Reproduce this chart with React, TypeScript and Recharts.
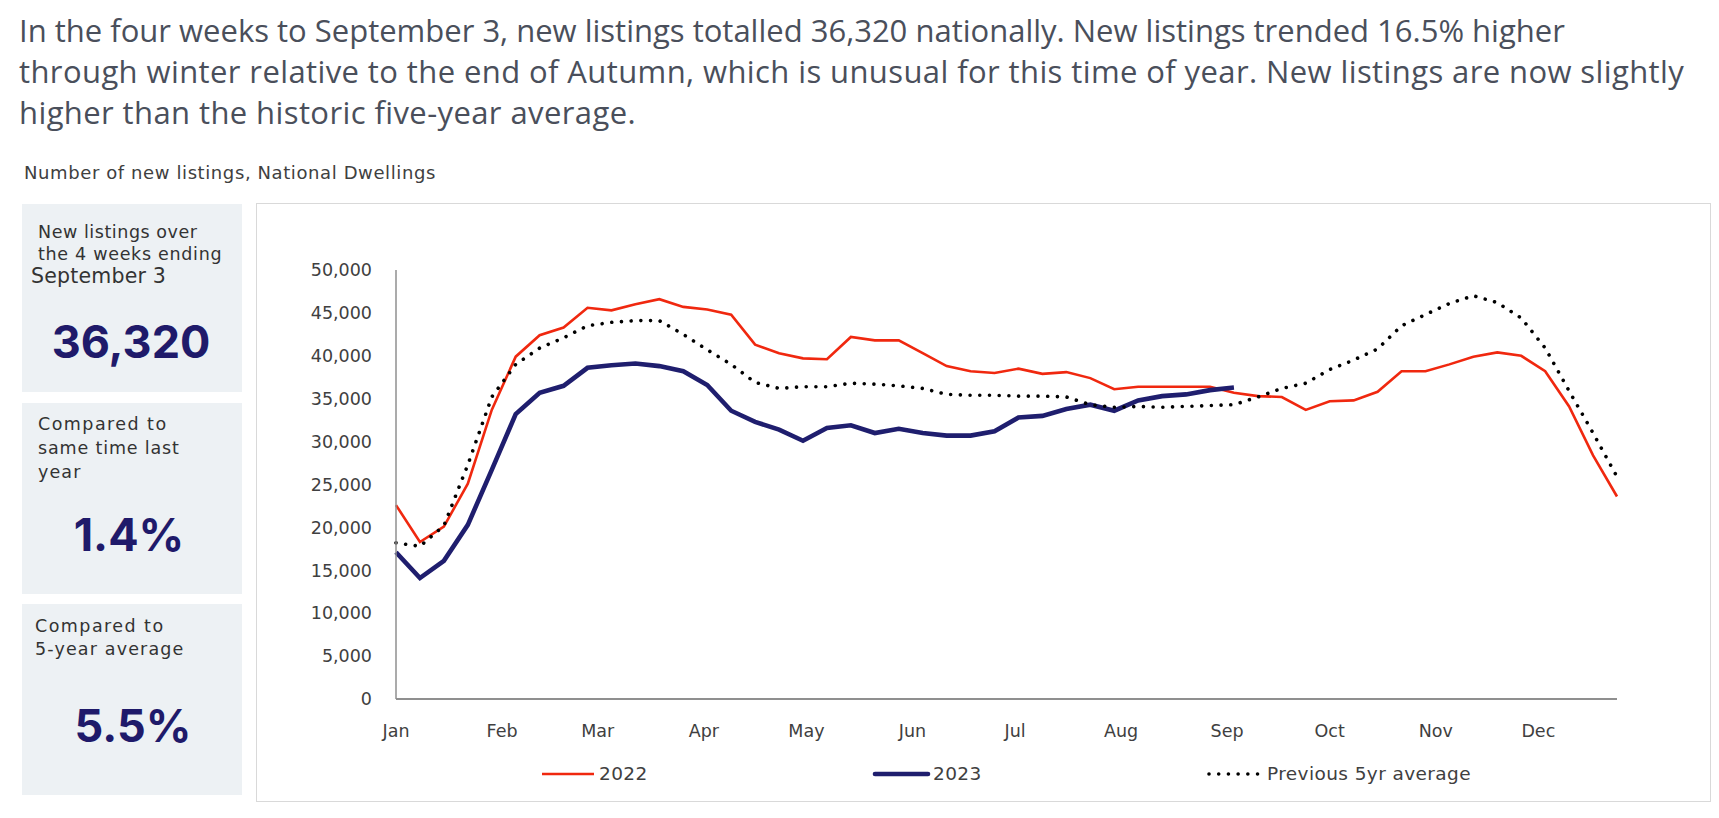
import React from 'react';
import { LineChart, Line, XAxis, YAxis } from 'recharts';

// week offsets (days since Jan 1)
const weekDays = [0, 7, 14, 21, 28, 35, 42, 49, 56, 63, 70, 77, 84, 91, 98, 105, 112, 119, 126, 133, 140, 147, 154, 161, 168, 175, 182, 189, 196, 203, 210, 217, 224, 231, 238, 245, 252, 259, 266, 273, 280, 287, 294, 301, 308, 315, 322, 329, 336, 343, 350, 357];

const listings2022 = [22600, 18300, 20100, 25100, 33700, 39900, 42400, 43300, 45600, 45300, 46000, 46600, 45700, 45400, 44800, 41300, 40300, 39700, 39600, 42200, 41800, 41800, 40300, 38800, 38200, 38000, 38500, 37900, 38100, 37400, 36100, 36400, 36400, 36400, 36400, 35700, 35300, 35200, 33700, 34700, 34800, 35800, 38200, 38200, 39000, 39900, 40400, 40000, 38200, 34100, 28400, 23600];

const listings2023 = [17100, 14100, 16100, 20300, 26700, 33200, 35700, 36500, 38600, 38900, 39100, 38800, 38200, 36600, 33600, 32300, 31400, 30100, 31600, 31900, 31000, 31500, 31000, 30700, 30700, 31200, 32800, 33000, 33800, 34300, 33600, 34800, 35300, 35500, 36000, 36300];

const fiveYearAvg = [18200, 17800, 20200, 27300, 35200, 39000, 40900, 42100, 43500, 43900, 44100, 44100, 42500, 40700, 39000, 36900, 36200, 36400, 36400, 36800, 36700, 36500, 36200, 35500, 35400, 35400, 35300, 35300, 35200, 34300, 34000, 34100, 34000, 34100, 34200, 34300, 35200, 36200, 36800, 38400, 39500, 40800, 43500, 44800, 46100, 47000, 46200, 44400, 40900, 35900, 31000, 25900];

const monthTickDays = [0, 31, 59, 90, 120, 151, 181, 212, 243, 273, 304, 334];
const monthLabels = ['Jan', 'Feb', 'Mar', 'Apr', 'May', 'Jun', 'Jul', 'Aug', 'Sep', 'Oct', 'Nov', 'Dec'];
const yTicks = [0, 5000, 10000, 15000, 20000, 25000, 30000, 35000, 40000, 45000, 50000];

const seriesNames = ['2022', '2023', 'Previous 5yr average'];

const titleLines = [
  'In the four weeks to September 3, new listings totalled 36,320 nationally. New listings trended 16.5% higher',
  'through winter relative to the end of Autumn, which is unusual for this time of year. New listings are now slightly',
  'higher than the historic five-year average.',
];
const titleSpacing = [0, 0.4, 0.4];

const RED = '#f0280f';
const NAVY = '#1f1e6e';
const BLACK = '#000000';
const LABEL_FONT = '"DejaVu Sans", sans-serif';
const BIG_FONT = 'Inter, "Noto Sans", sans-serif';

const data = weekDays.map((d, i) => ({
  day: d,
  y2022: listings2022[i],
  y2023: i < listings2023.length ? listings2023[i] : undefined,
  avg: fiveYearAvg[i],
}));

const fmt = (v: number) => v.toLocaleString('en-US');

const boxStyle: React.CSSProperties = {
  position: 'absolute',
  left: 22,
  width: 220,
  background: '#edf1f4',
};

const smallText = (left: number, top: number, text: string, ls: number, size = 17.5): React.ReactElement => (
  <div
    key={text + top}
    style={{
      position: 'absolute',
      left,
      top: top - 11,
      height: 22,
      lineHeight: '22px',
      fontSize: size,
      letterSpacing: ls,
      color: '#333333',
      fontFamily: LABEL_FONT,
      whiteSpace: 'nowrap',
    }}
  >
    {text}
  </div>
);

const bigText = (cx: number, cy: number, text: string): React.ReactElement => (
  <div
    style={{
      position: 'absolute',
      left: cx - 110,
      width: 220,
      top: cy - 30,
      height: 60,
      lineHeight: '60px',
      textAlign: 'center',
      fontSize: 45,
      fontWeight: 700,
      color: '#1f1a6a',
      fontFamily: BIG_FONT,
    }}
  >
    {text}
  </div>
);

export default function App() {
  return (
    <div
      style={{
        position: 'absolute',
        left: 0,
        top: 0,
        width: 1719,
        height: 818,
        background: '#ffffff',
        overflow: 'hidden',
      }}
    >
      {titleLines.map((t, i) => (
        <div
          key={i}
          style={{
            position: 'absolute',
            left: 19,
            top: 10 + i * 41,
            height: 41,
            lineHeight: '41px',
            fontSize: 31,
            color: '#4a4f5b',
            fontFamily: '"Open Sans", "Noto Sans", sans-serif',
            letterSpacing: titleSpacing[i],
            whiteSpace: 'nowrap',
          }}
        >
          {t}
        </div>
      ))}

      <div
        style={{
          position: 'absolute',
          left: 24,
          top: 162,
          lineHeight: '22px',
          fontSize: 18,
          letterSpacing: 0.6,
          color: '#404040',
          fontFamily: LABEL_FONT,
          whiteSpace: 'nowrap',
        }}
      >
        Number of new listings, National Dwellings
      </div>

      <div style={{ ...boxStyle, top: 204, height: 188 }} />
      <div style={{ ...boxStyle, top: 403, height: 191 }} />
      <div style={{ ...boxStyle, top: 604, height: 191 }} />

      {smallText(38, 232, 'New listings over', 0.55)}
      {smallText(38, 254, 'the 4 weeks ending', 0.7)}
      {smallText(31, 276, 'September 3', 0.2, 20.5)}
      {bigText(131, 342, '36,320')}

      {smallText(38, 424, 'Compared to', 1.45)}
      {smallText(38, 448, 'same time last', 0.85)}
      {smallText(38, 472, 'year', 1.1)}
      {bigText(129, 535, '1.4%')}

      {smallText(35, 626, 'Compared to', 1.45)}
      {smallText(35, 649, '5-year average', 1.15)}
      {bigText(133, 726, '5.5%')}

      <div
        style={{
          position: 'absolute',
          left: 256,
          top: 203,
          width: 1453,
          height: 597,
          border: '1.5px solid #d9d9d9',
        }}
      />

      <div style={{ position: 'absolute', left: 256, top: 203 }}>
        <LineChart
          width={1456}
          height={600}
          data={data}
          margin={{ top: 67, right: 95, bottom: 74, left: 0 }}
        >
          <XAxis
            dataKey="day"
            type="number"
            domain={[0, 357]}
            ticks={monthTickDays}
            interval={0}
            tickFormatter={(v: number) => monthLabels[monthTickDays.indexOf(v)]}
            tickLine={false}
            tickSize={6}
            tickMargin={20}
            height={30}
            axisLine={{ stroke: '#8f8f8f', strokeWidth: 2 }}
            tick={{ fill: '#404040', fontSize: 17.5, fontFamily: LABEL_FONT }}
          />
          <YAxis
            type="number"
            domain={[0, 50000]}
            ticks={yTicks}
            interval={0}
            width={140}
            tickFormatter={fmt}
            tickLine={false}
            tickSize={6}
            tickMargin={18}
            axisLine={{ stroke: '#8f8f8f', strokeWidth: 1.5 }}
            tick={{ fill: '#404040', fontSize: 17.5, fontFamily: LABEL_FONT }}
          />
          <Line
            type="linear"
            dataKey="y2022"
            name={seriesNames[0]}
            stroke={RED}
            strokeWidth={2.6}
            dot={false}
            activeDot={false}
            isAnimationActive={false}
          />
          <Line
            type="linear"
            dataKey="y2023"
            name={seriesNames[1]}
            stroke={NAVY}
            strokeWidth={4.6}
            dot={false}
            activeDot={false}
            connectNulls={false}
            isAnimationActive={false}
          />
          <Line
            type="linear"
            dataKey="avg"
            name={seriesNames[2]}
            stroke={BLACK}
            strokeWidth={3.6}
            strokeDasharray="0.01 9.7"
            strokeLinecap="round"
            dot={false}
            activeDot={false}
            isAnimationActive={false}
          />
        </LineChart>
      </div>

      {/* legend */}
      <svg style={{ position: 'absolute', left: 0, top: 760 }} width={1719} height={30}>
        <line x1={542} x2={594} y1={14} y2={14} stroke={RED} strokeWidth={2.6} />
        <line x1={875} x2={928} y1={14} y2={14} stroke={NAVY} strokeWidth={4.6} strokeLinecap="round" />
        <line x1={1209} x2={1262} y1={14} y2={14} stroke={BLACK} strokeWidth={3.6} strokeDasharray="0.01 9.7" strokeLinecap="round" />
        <text x={599} y={14} dy="0.35em" fontSize={18.5} letterSpacing={0.4} fill="#404040" fontFamily={LABEL_FONT}>{seriesNames[0]}</text>
        <text x={933} y={14} dy="0.35em" fontSize={18.5} letterSpacing={0.4} fill="#404040" fontFamily={LABEL_FONT}>{seriesNames[1]}</text>
        <text x={1267} y={14} dy="0.35em" fontSize={18.5} letterSpacing={0.4} fill="#404040" fontFamily={LABEL_FONT}>{seriesNames[2]}</text>
      </svg>
    </div>
  );
}
